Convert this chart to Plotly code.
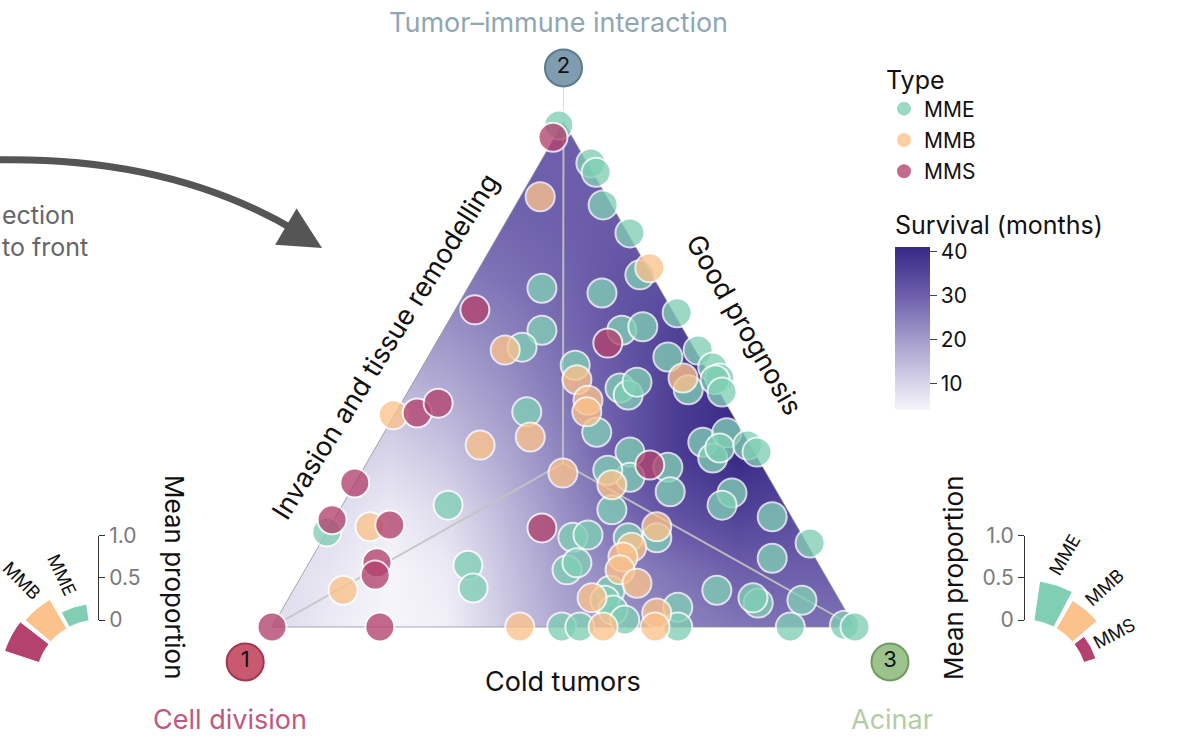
import plotly.graph_objects as go

# ---------------- data ----------------
# Patient positions in the ternary plane: x along the base (Cell division -> Acinar),
# y = height toward Tumor-immune interaction (triangle side = 1)
mme_x = [0.492, 0.547, 0.556, 0.568, 0.614, 0.631, 0.463, 0.566, 0.695, 0.463, 0.429, 0.600, 0.636, 0.679,
         0.731, 0.520, 0.756, 0.768, 0.597, 0.611, 0.626, 0.714, 0.760, 0.772, 0.437, 0.557, 0.614, 0.679,
         0.614, 0.576, 0.683, 0.583, 0.739, 0.780, 0.756, 0.768, 0.816, 0.832, 0.789, 0.772, 0.858, 0.923,
         0.858, 0.302, 0.094, 0.336, 0.345, 0.516, 0.542, 0.506, 0.523, 0.660, 0.611, 0.580, 0.571, 0.585,
         0.763, 0.834, 0.909, 0.696, 0.696, 0.497, 0.528, 0.605, 0.889, 0.982, 1.000, 0.825]
mme_y = [0.861, 0.796, 0.780, 0.724, 0.676, 0.604, 0.581, 0.573, 0.539, 0.509, 0.480, 0.509, 0.515, 0.463,
         0.475, 0.449, 0.446, 0.427, 0.410, 0.398, 0.420, 0.407, 0.424, 0.403, 0.369, 0.334, 0.300, 0.274,
         0.257, 0.269, 0.232, 0.201, 0.317, 0.333, 0.290, 0.307, 0.312, 0.300, 0.230, 0.209, 0.189, 0.144,
         0.118, 0.209, 0.163, 0.106, 0.067, 0.154, 0.158, 0.098, 0.110, 0.153, 0.153, 0.063, 0.046, 0.029,
         0.063, 0.041, 0.046, 0.034, 0.000, 0.000, 0.000, 0.012, 0.000, 0.003, 0.000, 0.050]

mmb_x = [0.460, 0.648, 0.400, 0.523, 0.542, 0.540, 0.705, 0.208, 0.443, 0.357, 0.499, 0.583, 0.168, 0.122,
         0.660, 0.617, 0.602, 0.597, 0.626, 0.549, 0.660, 0.657, 0.568, 0.425]
mmb_y = [0.738, 0.616, 0.475, 0.424, 0.389, 0.369, 0.427, 0.364, 0.326, 0.312, 0.264, 0.244, 0.172, 0.063,
         0.172, 0.137, 0.120, 0.098, 0.075, 0.050, 0.024, 0.000, 0.000, 0.000]

mms_x = [0.482, 0.348, 0.576, 0.249, 0.285, 0.142, 0.103, 0.202, 0.180, 0.177, 0.463, 0.648, 0.000, 0.185]
mms_y = [0.840, 0.544, 0.487, 0.367, 0.384, 0.247, 0.184, 0.175, 0.110, 0.089, 0.170, 0.278, 0.000, 0.000]

# Mean composition (centre where the three guide lines meet)
centre_x, centre_y = 0.499, 0.281

# Survival surface (months) read from the background shading
grid_x = [0.0, 0.1, 0.2, 0.3, 0.4, 0.5, 0.6, 0.7, 0.8, 0.9, 1.0]
grid_y = [0.0, 0.1, 0.2, 0.3, 0.4, 0.5, 0.6, 0.7, 0.8, 0.9]
survival = [
    [9, 6, 4, 5, 12, 18, 21, 24, 26, 27, 27],
    [9, 7, 4, 6, 13, 20, 24, 27, 30, 30, 30],
    [10, 9, 6, 9, 15, 22, 28, 33, 36, 34, 34],
    [12, 12, 10, 13, 18, 24, 31, 37, 41, 38, 38],
    [15, 15, 14, 17, 21, 26, 31, 37, 40, 40, 40],
    [20, 20, 20, 21, 24, 28, 32, 36, 36, 36, 36],
    [24, 24, 24, 25, 27, 29, 32, 33, 33, 33, 33],
    [28, 28, 28, 28, 29, 30, 31, 31, 31, 31, 31],
    [30, 30, 30, 30, 30, 30, 30, 30, 30, 30, 30],
    [30, 30, 30, 30, 30, 30, 30, 30, 30, 30, 30],
]
survival_ticks = [10, 20, 30, 40]

# Mean proportion of each type at the two base corners
types = ["MME", "MMB", "MMS"]
prop_cell_division = [0.20, 0.40, 0.55]
prop_acinar = [0.47, 0.38, 0.15]
prop_ticks = [0, 0.5, 1.0]
prop_ticktext = ["0", "0.5", "1.0"]

vertex_names = ["1", "2", "3"]

# ---------------- style ----------------
FONT = "Inter"
TEAL, ORANGE, CRIMSON = "#80cfb5", "#fcc28b", "#b3426e"
type_colors = [TEAL, ORANGE, CRIMSON]
W, H = 1194, 748
S3 = 3 ** 0.5 / 2
V = [(0.0, 0.0), (0.5, S3), (1.0, 0.0)]

fig = go.Figure()

# background survival surface
fig.add_trace(go.Heatmap(
    x=grid_x, y=grid_y, z=survival, zsmooth="best", zmin=4, zmax=41,
    colorscale=[[0.0, "#f6f5fa"], [0.16, "#d9d6ea"], [0.43, "#a49dcc"], [0.70, "#6d5fab"],
                [0.97, "#3c2d89"], [1.0, "#392a86"]],
    hoverinfo="skip",
    colorbar=dict(
        title=dict(text="Survival (months)", side="top", font=dict(size=25, family=FONT, color="#111")),
        x=895 / W, xanchor="left", y=1 - 212 / H, yanchor="top", len=198 / H, lenmode="fraction",
        thickness=35, outlinewidth=0, tickvals=survival_ticks, ticks="outside", ticklen=7,
        tickcolor="#444", tickfont=dict(size=21, family=FONT, color="#111"), xpad=0, ypad=0,
    ),
))

# white masks outside the triangle
for px_, py_ in [
    ([-1, 0, 0.5, 0.5, -1], [-1, 0, S3, 2, 2]),
    ([2, 1, 0.5, 0.5, 2], [-1, 0, S3, 2, 2]),
    ([-1, 2, 2, -1], [0, 0, -1, -1]),
]:
    fig.add_trace(go.Scatter(x=px_, y=py_, fill="toself", fillcolor="white", mode="none",
                             hoverinfo="skip", showlegend=False))

# triangle outline
fig.add_trace(go.Scatter(x=[V[0][0], V[1][0], V[2][0], V[0][0]], y=[V[0][1], V[1][1], V[2][1], V[0][1]],
                         mode="lines", line=dict(color="rgba(140,140,140,0.75)", width=1),
                         hoverinfo="skip", showlegend=False))
# guide lines from each vertex to the centre
for vx, vy in V:
    fig.add_trace(go.Scatter(x=[vx, centre_x], y=[vy, centre_y], mode="lines",
                             line=dict(color="rgba(195,195,195,0.9)", width=2),
                             hoverinfo="skip", showlegend=False))

# patients
for name, xs, ys, col in [("MME", mme_x, mme_y, TEAL), ("MMB", mmb_x, mmb_y, ORANGE),
                          ("MMS", mms_x, mms_y, CRIMSON)]:
    fig.add_trace(go.Scatter(x=xs, y=ys, mode="markers", name=name, legendgroup=name,
                             marker=dict(size=29, color=col, opacity=0.78,
                                         line=dict(color="white", width=2))))

# numbered vertex badges
fig.add_trace(go.Scatter(
    x=[V[0][0] - 0.046, V[1][0], V[2][0] + 0.060], y=[V[0][1] - 0.060, V[1][1] + 0.093, V[2][1] - 0.060],
    mode="markers+text", text=vertex_names, textfont=dict(size=22, family=FONT, color="#111"),
    marker=dict(size=37, color=["#c9596f", "#7f9daf", "#9dc38d"],
                line=dict(color=["#a2364f", "#5a7a8d", "#6f9a60"], width=2)),
    hoverinfo="skip", showlegend=False))

# polar bar charts
fig.add_trace(go.Barpolar(r=prop_cell_division, theta=[108, 130, 152], width=[19.5] * 3,
                          marker=dict(color=type_colors, line=dict(color="white", width=1)),
                          subplot="polar", showlegend=False, hoverinfo="skip"))
fig.add_trace(go.Barpolar(r=prop_acinar, theta=[72, 50, 28], width=[19.5] * 3,
                          marker=dict(color=type_colors, line=dict(color="white", width=1)),
                          subplot="polar2", showlegend=False, hoverinfo="skip"))
# axis brackets for the polar bars
fig.add_trace(go.Scatter(x=[], y=[], xaxis="x2", yaxis="y2", showlegend=False))
fig.add_trace(go.Scatter(x=[], y=[], xaxis="x3", yaxis="y3", showlegend=False))

x0 = -272 / 583
y0 = -(H - 627) / 583
bracket = dict(range=[0, 1], tickvals=prop_ticks, ticktext=prop_ticktext, showline=True,
               linecolor="#333", linewidth=1, ticks="outside", ticklen=6, tickcolor="#333",
               showgrid=False, zeroline=False, tickfont=dict(size=21, family=FONT, color="#7a7a7a"),
               domain=[1 - 620 / H, 1 - 535.5 / H], fixedrange=True)

def T(px, py):
    return (px - 272) / 583, (627 - py) / 583

annotations = []
def ann(text, px, py, size=26, color="#111", angle=0, xanchor="center"):
    annotations.append(dict(text=text, x=px / W, y=1 - py / H, xref="paper", yref="paper",
                            showarrow=False, textangle=angle, xanchor=xanchor, yanchor="middle",
                            font=dict(size=size, family=FONT, color=color)))

ann("Tumor–immune interaction", 558, 22, 27, "#8fa6b3")
ann("Cell division", 230, 719, 27, "#c0587e")
ann("Acinar", 892, 719, 27, "#b3cca6")
ann("Cold tumors", 563, 681, 27)
ann("Invasion and tissue remodelling", 385, 346, 27, angle=-58)
ann("Good prognosis", 745, 325, 27, angle=60)
ann("Mean proportion", 175, 578, 26, angle=90)
ann("Mean proportion", 953, 578, 26, angle=-90)
ann("MME", 1064, 555, 18, angle=-60)
ann("MMB", 1104, 587, 18, angle=-42)
ann("MMS", 1114, 633, 18, angle=-28)
ann("MME", 62, 574, 18, angle=65)
ann("MMB", 22, 580, 18, angle=45)
ann("ection", 0, 215, 25, "#666", xanchor="left")
ann("to front", 0, 247, 25, "#666", xanchor="left")

tip = T(322, 248)
annotations.append(dict(x=tip[0], y=tip[1], xref="x", yref="y", ax=-27, ay=-16, text="",
                        showarrow=True, arrowhead=2, arrowsize=1.2, arrowwidth=7, arrowcolor="#555"))
p0, p1, p2 = T(-10, 160), T(170, 155), T(298, 232)
shapes = [dict(type="path", xref="x", yref="y",
               path=f"M {p0[0]},{p0[1]} Q {p1[0]},{p1[1]} {p2[0]},{p2[1]}",
               line=dict(color="#555", width=7))]

fig.update_layout(
    width=W, height=H, margin=dict(l=0, r=0, t=0, b=0, autoexpand=False),
    paper_bgcolor="white", plot_bgcolor="white",
    font=dict(family=FONT, color="#111"),
    xaxis=dict(range=[x0, x0 + W / 583], visible=False, fixedrange=True),
    yaxis=dict(range=[y0, y0 + H / 583], visible=False, fixedrange=True),
    xaxis2=dict(domain=[0.06, 98 / W], visible=False, range=[0, 1]),
    yaxis2=dict(anchor="x2", side="right", **bracket),
    xaxis3=dict(domain=[1025 / W, 1060 / W], visible=False, range=[0, 1]),
    yaxis3=dict(anchor="x3", side="left", **bracket),
    polar=dict(domain=dict(x=[0, 98 / W], y=[1 - 682 / H, 1 - 584 / H]), sector=[90, 180],
               hole=62 / 98, bgcolor="rgba(0,0,0,0)",
               radialaxis=dict(range=[0, 36 / 84], visible=False),
               angularaxis=dict(visible=False)),
    polar2=dict(domain=dict(x=[1025 / W, 1167 / W], y=[1 - 682 / H, 1 - 535 / H]), sector=[15, 90],
                hole=62 / 147, bgcolor="rgba(0,0,0,0)",
                radialaxis=dict(range=[0, 1], visible=False),
                angularaxis=dict(visible=False)),
    legend=dict(title=dict(text="Type", font=dict(size=25, family=FONT)), x=884 / W, xanchor="left",
                y=1 - 56 / H, yanchor="top", font=dict(size=21, family=FONT), tracegroupgap=1,
                bgcolor="rgba(0,0,0,0)", itemclick=False),
    annotations=annotations, shapes=shapes,
)

fig.write_html("out.html", config={"displayModeBar": False},
               post_script="document.body.style.margin='0px';")
